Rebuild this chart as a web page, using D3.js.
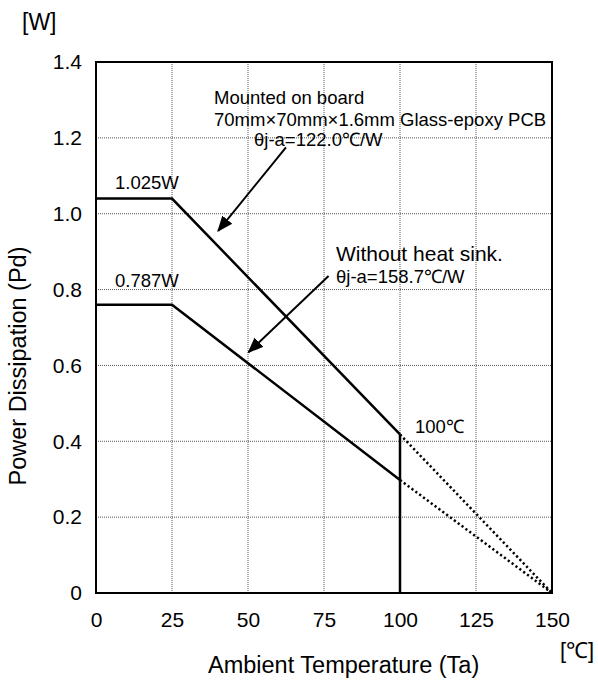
<!DOCTYPE html>
<html>
<head>
<meta charset="utf-8">
<script src="https://cdn.jsdelivr.net/npm/d3@7"></script>
<style>
  body { margin: 0; background: #fff; }
  text { font-family: "Liberation Sans", Arial, sans-serif; fill: #000; }
  .axis .domain { display: none; }
  .grid line { stroke: #555; stroke-width: 1; stroke-dasharray: 1,1; }
</style>
</head>
<body>
<div id="chart"></div>
<script>
const width = 598,
    height = 684,
    margin = { left: 96, right: 46, top: 62, bottom: 91 };

// axis ticks
const tempTicks = [0, 25, 50, 75, 100, 125, 150];
const powerTicks = [0, 0.2, 0.4, 0.6, 0.8, 1.0, 1.2, 1.4];
const powerTickLabels = ['0', '0.2', '0.4', '0.6', '0.8', '1.0', '1.2', '1.4'];

// derating curves (solid part)
const boardTa = [0, 25, 100];
const boardPd = [1.04, 1.04, 0.418];
const bareTa = [0, 25, 100];
const barePd = [0.76, 0.76, 0.298];
// dotted continuation to Tjmax
const boardDotTa = [100, 150];
const boardDotPd = [0.418, 0];
const bareDotTa = [100, 150];
const bareDotPd = [0.298, 0];
// vertical cut at 100 C
const cutTa = [100, 100];
const cutPd = [0.418, 0];

// annotation arrows [from, to] in data units
const boardArrow = [[62.5, 1.175], [40.2, 0.955]];
const bareArrow = [[76.5, 0.836], [50.2, 0.635]];

let xScale = d3.scaleLinear()
    .domain([0, 150])
    .range([margin.left, width - margin.right]);
let yScale = d3.scaleLinear()
    .domain([0, 1.4])
    .range([height - margin.bottom, margin.top]);

var svg = d3.select('#chart')
    .append('svg')
    .attr('width', width)
    .attr('height', height);

svg.append('defs').append('marker')
    .attr('id', 'head')
    .attr('viewBox', '0 0 10 10')
    .attr('refX', 9)
    .attr('refY', 5)
    .attr('markerWidth', 8)
    .attr('markerHeight', 8)
    .attr('markerUnits', 'strokeWidth')
    .attr('orient', 'auto')
    .append('path')
    .attr('d', 'M0,1 L10,5 L0,9 Z')
    .attr('fill', '#000');

// grid
svg.append('g').attr('class', 'grid')
    .selectAll('line.v')
    .data(tempTicks.slice(1, -1))
    .enter().append('line')
    .attr('x1', d => xScale(d)).attr('x2', d => xScale(d))
    .attr('y1', yScale(0)).attr('y2', yScale(1.4));
svg.append('g').attr('class', 'grid')
    .selectAll('line.h')
    .data(powerTicks.slice(1, -1))
    .enter().append('line')
    .attr('x1', xScale(0)).attr('x2', xScale(150))
    .attr('y1', d => yScale(d)).attr('y2', d => yScale(d));

// frame
svg.append('rect')
    .attr('x', xScale(0)).attr('y', yScale(1.4))
    .attr('width', xScale(150) - xScale(0))
    .attr('height', yScale(0) - yScale(1.4))
    .attr('fill', 'none')
    .attr('stroke', '#000')
    .attr('stroke-width', 2);

// axes
let xAxis = d3.axisBottom(xScale).tickValues(tempTicks).tickSize(0).tickPadding(19);
let yAxis = d3.axisLeft(yScale).tickValues(powerTicks).tickSize(0).tickPadding(14)
    .tickFormat((d, i) => powerTickLabels[i]);

svg.append('g').attr('class', 'axis')
    .attr('transform', 'translate(0,' + yScale(0) + ')')
    .call(xAxis)
    .selectAll('text').style('font-size', '21px').attr('font-family', null);
svg.append('g').attr('class', 'axis')
    .attr('transform', 'translate(' + xScale(0) + ',0)')
    .call(yAxis)
    .selectAll('text').style('font-size', '21px').attr('font-family', null);

// curves
let line = d3.line()
    .x(d => xScale(d[0]))
    .y(d => yScale(d[1]));

function drawLine(xs, ys, dotted) {
    svg.append('path')
        .datum(d3.zip(xs, ys))
        .attr('d', line)
        .attr('fill', 'none')
        .attr('stroke', '#000')
        .attr('stroke-width', 2.5)
        .attr('stroke-dasharray', dotted ? '2.2,2.6' : null);
}
drawLine(boardTa, boardPd, false);
drawLine(bareTa, barePd, false);
drawLine(boardDotTa, boardDotPd, true);
drawLine(bareDotTa, bareDotPd, true);
drawLine(cutTa, cutPd, false);

// arrows
[boardArrow, bareArrow].forEach(a => {
    svg.append('line')
        .attr('x1', xScale(a[0][0])).attr('y1', yScale(a[0][1]))
        .attr('x2', xScale(a[1][0])).attr('y2', yScale(a[1][1]))
        .attr('stroke', '#000')
        .attr('stroke-width', 2)
        .attr('marker-end', 'url(#head)');
});

// labels
function label(x, y, str, size, anchor) {
    return svg.append('text')
        .attr('x', x).attr('y', y)
        .attr('text-anchor', anchor || 'start')
        .style('font-size', size + 'px')
        .text(str);
}
label(22, 30, '[W]', 23);
label(560, 658, '[\u2103]', 22);
label(208, 673, 'Ambient Temperature (Ta)', 23.5);
svg.append('text')
    .attr('transform', 'translate(26,366) rotate(-90)')
    .attr('text-anchor', 'middle')
    .style('font-size', '23.5px')
    .text('Power Dissipation (Pd)');

label(214, 104, 'Mounted on board', 18.5);
label(214, 126, '70mm\u00d770mm\u00d71.6mm Glass-epoxy PCB', 18.5);
label(254, 146, '\u03b8j-a=122.0\u2103/W', 18.5);
label(115, 189, '1.025W', 18.5);
label(115, 287, '0.787W', 18.5);
label(336, 261, 'Without heat sink.', 21);
label(336, 283, '\u03b8j-a=158.7\u2103/W', 18.5);
label(415, 433, '100\u2103', 18.5);
</script>
</body>
</html>
